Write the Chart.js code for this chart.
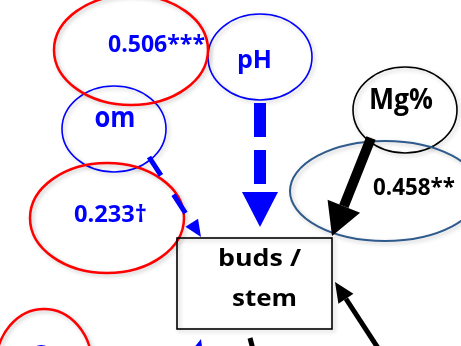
<!DOCTYPE html>
<html>
<head>
<meta charset="utf-8">
<script src="https://cdn.jsdelivr.net/npm/chart.js@4.4.1/dist/chart.umd.min.js"></script>
<style>
  html, body { margin: 0; padding: 0; background: #fff; }
  canvas { display: block; }
</style>
</head>
<body>
<canvas id="diagram" width="461" height="346"></canvas>
<script>
// --- DATA ---
// measured variables (ellipses), centre in diagram units
const variables = ['pH', 'om', 'Mg%', 'Ca'];
const variableX = [260, 114, 405, 44];
const variableY = [57, 129, 110, 365];

// path coefficients (ellipses with the estimate)
const coefficients = ['0.506***', '0.233\u2020', '0.458**'];
const coefficientX = [131, 107, 385];
const coefficientY = [50, 218, 191];

// response variable (box corners)
const responseLines = ['buds /', 'stem'];
const responseX = [177, 332];
const responseY = [238, 329];

// paths: start point and arrow tip
const pathFromX = [260, 149, 371, 378, 194, 250];
const pathFromY = [103, 157, 138, 348, 364, 338];
const pathToX = [260, 201, 332, 335, 201, 259];
const pathToY = [227, 237, 236, 282, 339, 372];

// --- STYLES ---
const BLUE = '#0000FF', RED = '#FF0000', BLACK = '#000000';
const FONT = '"Open Sans", "DejaVu Sans", sans-serif';

// size = font px, w = drawn text width, dx/dy = text centre/baseline offset
const variableStyle = [
  { rx: 52, ry: 43, color: BLUE, lw: 1.6, text: BLUE, size: 25, w: 35, dx: -5.5, dy: 11 },
  { rx: 52, ry: 43, color: BLUE, lw: 1.6, text: BLUE, size: 29, w: 41, dx: 1, dy: -2 },
  { rx: 52, ry: 43, color: BLACK, lw: 1.6, text: BLACK, size: 28, w: 64, dx: -4, dy: -1 },
  { rx: 48, ry: 56, color: RED, lw: 2.5, text: BLUE, size: 26, w: 36, dx: 4, dy: -1 }
];
const coefficientStyle = [
  { rx: 77, ry: 55, color: RED, lw: 2.5, text: BLUE, size: 24, w: 97, dx: 25.5, dy: 2 },
  { rx: 77, ry: 55, color: RED, lw: 2.5, text: BLUE, size: 22.5, w: 73, dx: 3.5, dy: 4 },
  { rx: 95, ry: 50, color: '#2F5A8C', lw: 2, text: BLACK, size: 24, w: 82, dx: 29, dy: 4 }
];
const responseStyle = [
  { size: 23, w: 83, dx: 5, dy: 28 },
  { size: 23, w: 65, dx: 10, dy: 68 }
];
const pathStyle = [
  { color: BLUE, lw: 12, dash: [34, 13], head: 35, headW: 36 },
  { color: BLUE, lw: 5, dash: [22, 23], head: 17, headW: 15 },
  { color: BLACK, lw: 10, dash: [], head: 32, headW: 35 },
  { color: BLACK, lw: 5, dash: [], head: 20, headW: 18 },
  { color: BLUE, lw: 5, dash: [], head: 20, headW: 17 },
  { color: BLACK, lw: 5, dash: [], head: 20, headW: 18 }
];

// shafts end at the base of the arrow head
function shaftEnd(i) {
  const dx = pathToX[i] - pathFromX[i], dy = pathToY[i] - pathFromY[i];
  const len = Math.hypot(dx, dy);
  const h = pathStyle[i].head;
  return { x: pathToX[i] - dx / len * h, y: pathToY[i] - dy / len * h };
}

const datasets = [];
datasets.push({
  label: 'variables',
  data: variables.map((v, i) => ({ x: variableX[i], y: variableY[i] })),
  pointRadius: 0
});
datasets.push({
  label: 'coefficients',
  data: coefficients.map((v, i) => ({ x: coefficientX[i], y: coefficientY[i] })),
  pointRadius: 0
});
datasets.push({
  label: 'response',
  data: [{ x: responseX[0], y: responseY[0] }, { x: responseX[1], y: responseY[1] }],
  pointRadius: 0
});
pathFromX.forEach((x, i) => {
  datasets.push({
    label: 'path' + i,
    data: [{ x: x, y: pathFromY[i] }, shaftEnd(i)],
    showLine: true,
    pointRadius: 0,
    borderColor: pathStyle[i].color,
    borderWidth: pathStyle[i].lw,
    borderDash: pathStyle[i].dash,
    borderCapStyle: 'butt'
  });
});

function withShadow(ctx, fn) {
  ctx.save();
  ctx.shadowColor = 'rgba(0,0,0,0.22)';
  ctx.shadowBlur = 4;
  ctx.shadowOffsetX = 2;
  ctx.shadowOffsetY = 2;
  fn();
  ctx.restore();
}

// text squeezed/stretched to the measured width
function fitText(ctx, str, cx, base, size, w, color) {
  ctx.save();
  ctx.font = 'bold ' + size + 'px ' + FONT;
  ctx.fillStyle = color;
  ctx.textAlign = 'center';
  ctx.textBaseline = 'alphabetic';
  const m = ctx.measureText(str).width;
  ctx.translate(cx, base);
  ctx.scale(w / m, 1);
  ctx.fillText(str, 0, 0);
  ctx.restore();
}

const diagramPlugin = {
  id: 'diagram',
  beforeDatasetsDraw(chart) {
    const ctx = chart.ctx;
    const drawEllipses = (meta, styles) => {
      meta.data.forEach((pt, i) => {
        const s = styles[i];
        withShadow(ctx, () => {
          ctx.beginPath();
          ctx.ellipse(pt.x, pt.y, s.rx, s.ry, 0, 0, Math.PI * 2);
          ctx.strokeStyle = s.color;
          ctx.lineWidth = s.lw;
          ctx.stroke();
        });
      });
    };
    drawEllipses(chart.getDatasetMeta(0), variableStyle);
    drawEllipses(chart.getDatasetMeta(1), coefficientStyle);
    // response box
    const b = chart.getDatasetMeta(2).data;
    withShadow(ctx, () => {
      ctx.strokeStyle = BLACK;
      ctx.lineWidth = 1.6;
      ctx.strokeRect(b[0].x, b[0].y, b[1].x - b[0].x, b[1].y - b[0].y);
    });
  },
  afterDatasetsDraw(chart) {
    const ctx = chart.ctx;
    const xs = chart.scales.x, ys = chart.scales.y;
    // arrow heads
    pathToX.forEach((tx, i) => {
      const s = pathStyle[i];
      const px = xs.getPixelForValue(tx), py = ys.getPixelForValue(pathToY[i]);
      const fx = xs.getPixelForValue(pathFromX[i]), fy = ys.getPixelForValue(pathFromY[i]);
      const len = Math.hypot(px - fx, py - fy);
      const ux = (px - fx) / len, uy = (py - fy) / len;
      const bx = px - ux * s.head, by = py - uy * s.head;
      ctx.beginPath();
      ctx.moveTo(px, py);
      ctx.lineTo(bx - uy * s.headW / 2, by + ux * s.headW / 2);
      ctx.lineTo(bx + uy * s.headW / 2, by - ux * s.headW / 2);
      ctx.closePath();
      ctx.fillStyle = s.color;
      ctx.fill();
    });
    // texts
    chart.getDatasetMeta(0).data.forEach((pt, i) => {
      const s = variableStyle[i];
      fitText(ctx, variables[i], pt.x + s.dx, pt.y + s.dy, s.size, s.w, s.text);
    });
    chart.getDatasetMeta(1).data.forEach((pt, i) => {
      const s = coefficientStyle[i];
      fitText(ctx, coefficients[i], pt.x + s.dx, pt.y + s.dy, s.size, s.w, s.text);
    });
    const b = chart.getDatasetMeta(2).data;
    const cx = (b[0].x + b[1].x) / 2;
    responseLines.forEach((line, i) => {
      const s = responseStyle[i];
      fitText(ctx, line, cx + s.dx, b[0].y + s.dy, s.size, s.w, BLACK);
    });
  }
};

new Chart(document.getElementById('diagram'), {
  type: 'scatter',
  data: { datasets: datasets },
  options: {
    responsive: false,
    animation: false,
    layout: { padding: 0 },
    plugins: { legend: { display: false }, tooltip: { enabled: false } },
    scales: {
      x: { type: 'linear', min: 0, max: 461, display: false },
      y: { type: 'linear', min: 0, max: 346, reverse: true, display: false }
    }
  },
  plugins: [diagramPlugin]
});
</script>
</body>
</html>
